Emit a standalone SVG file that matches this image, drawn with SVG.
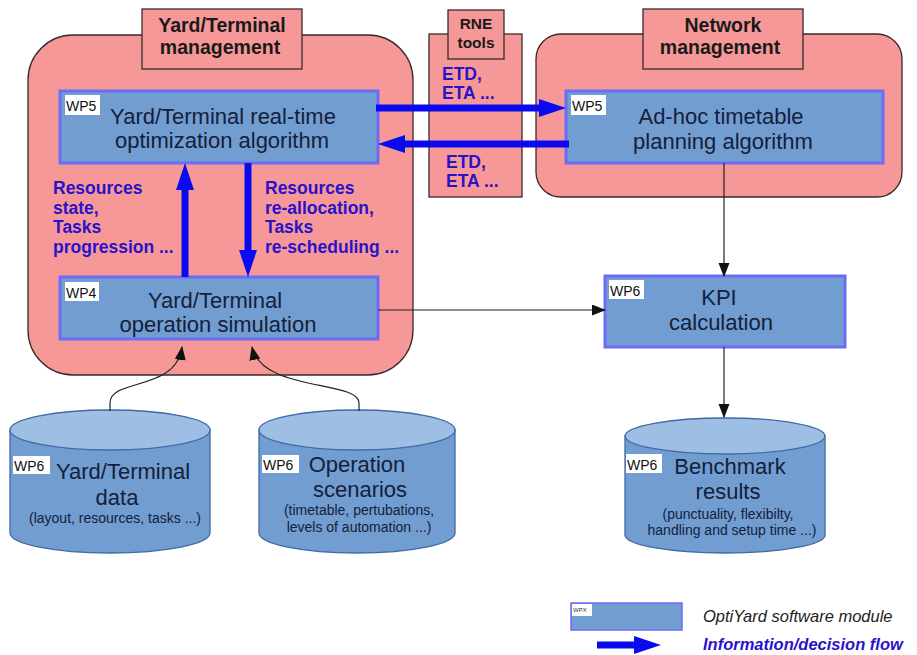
<svg xmlns="http://www.w3.org/2000/svg" width="917" height="655" viewBox="0 0 917 655">
<style>
  text{font-family:"Liberation Sans",Arial,sans-serif;}
  .cont{fill:#f79898;stroke:#3a2a2a;stroke-width:1.3;}
  .title{font-weight:bold;font-size:19.5px;fill:#1a1a1a;text-anchor:middle;}
  .box{fill:#719dd0;stroke:#6c6cf6;stroke-width:3;}
  .bt{font-size:22px;fill:#15203a;text-anchor:middle;}
  .lbl{fill:#ffffff;}
  .lt{font-size:14px;fill:#111;}
  .flow{font-weight:bold;font-size:17.5px;fill:#2a12c8;}
  .cyl{fill:#719dd0;stroke:#3f6aa6;stroke-width:1.3;}
  .cyltop{fill:#9ebfe3;stroke:#3f6aa6;stroke-width:1.3;}
  .ct{font-size:22px;fill:#15203a;text-anchor:middle;}
  .cs{font-size:14px;fill:#15203a;text-anchor:middle;}
  .big{stroke:#0a0af0;stroke-width:7;fill:none;}
  .thin{stroke:#222;stroke-width:1.2;fill:none;}
</style>
<defs>
  <marker id="bh" markerUnits="userSpaceOnUse" markerWidth="28" markerHeight="20" refX="0" refY="9" orient="auto">
    <path d="M0,0 L27,9 L0,18 Z" fill="#0a0af0"/>
  </marker>
  <marker id="th" markerUnits="userSpaceOnUse" markerWidth="14" markerHeight="12" refX="13" refY="5.5" orient="auto">
    <path d="M0,0 L14,5.5 L0,11 Z" fill="#111"/>
  </marker>
</defs>
<rect width="917" height="655" fill="#ffffff"/>

<g id="yard-management">
  <rect class="cont" x="28" y="35" width="385" height="340" rx="45" ry="45"/>
  <rect class="cont" x="142" y="9" width="160" height="60"/>
  <text class="title" x="222" y="32">Yard/Terminal</text>
  <text class="title" x="220" y="54">management</text>
</g>

<g id="rne-tools">
  <rect class="cont" x="429" y="34" width="93" height="163"/>
  <rect class="cont" x="448" y="10" width="56" height="49"/>
  <text class="title" x="476" y="29" style="font-size:15.5px">RNE</text>
  <text class="title" x="476" y="48" style="font-size:15.5px">tools</text>
</g>

<g id="network-management">
  <rect class="cont" x="536" y="34" width="366" height="163" rx="25" ry="25"/>
  <rect class="cont" x="643" y="9" width="160" height="60"/>
  <text class="title" x="723" y="32">Network</text>
  <text class="title" x="720" y="54">management</text>
</g>

<g id="wp5-yard-optimization">
  <rect class="box" x="60" y="91" width="318" height="72"/>
  <rect class="lbl" x="65" y="95" width="35" height="20"/>
  <text class="lt" x="66" y="111">WP5</text>
  <text class="bt" x="223" y="124">Yard/Terminal real-time</text>
  <text class="bt" x="222" y="148">optimization algorithm</text>
</g>

<g id="wp4-yard-simulation">
  <rect class="box" x="60" y="277" width="318" height="62"/>
  <rect class="lbl" x="65" y="282" width="34" height="19"/>
  <text class="lt" x="66" y="298">WP4</text>
  <text class="bt" x="215" y="308">Yard/Terminal</text>
  <text class="bt" x="218" y="332">operation simulation</text>
</g>

<g id="wp5-adhoc-timetable">
  <rect class="box" x="566" y="91" width="317" height="72"/>
  <rect class="lbl" x="571" y="95" width="35" height="20"/>
  <text class="lt" x="572" y="111">WP5</text>
  <text class="bt" x="721" y="124">Ad-hoc timetable</text>
  <text class="bt" x="723" y="149">planning algorithm</text>
</g>

<g id="wp6-kpi">
  <rect class="box" x="605" y="276" width="240" height="71"/>
  <rect class="lbl" x="609" y="280" width="35" height="19"/>
  <text class="lt" x="610" y="296">WP6</text>
  <text class="bt" x="719" y="305">KPI</text>
  <text class="bt" x="721" y="330">calculation</text>
</g>

<g id="wp6-yard-data">
  <path class="cyl" d="M10,430 L10,533 A100,20 0 0 0 210,533 L210,430 Z"/>
  <ellipse class="cyltop" cx="110" cy="430" rx="100" ry="20"/>
  <rect class="lbl" x="13" y="456" width="37" height="18"/>
  <text class="lt" x="14" y="471">WP6</text>
  <text class="ct" x="123" y="479">Yard/Terminal</text>
  <text class="ct" x="117" y="505">data</text>
  <text class="cs" x="115" y="523">(layout, resources, tasks ...)</text>
</g>

<g id="wp6-operation-scenarios">
  <path class="cyl" d="M259,430 L259,533 A98,20 0 0 0 455,533 L455,430 Z"/>
  <ellipse class="cyltop" cx="357" cy="430" rx="98" ry="20"/>
  <rect class="lbl" x="262" y="455" width="37" height="18"/>
  <text class="lt" x="263" y="470">WP6</text>
  <text class="ct" x="357" y="472">Operation</text>
  <text class="ct" x="360" y="497">scenarios</text>
  <text class="cs" x="359" y="515">(timetable, pertubations,</text>
  <text class="cs" x="359" y="532">levels of automation ...)</text>
</g>

<g id="wp6-benchmark-results">
  <path class="cyl" d="M625,436 L625,535 A100,18 0 0 0 825,535 L825,436 Z"/>
  <ellipse class="cyltop" cx="725" cy="436" rx="100" ry="18"/>
  <rect class="lbl" x="626" y="454" width="36" height="19"/>
  <text class="lt" x="627" y="470">WP6</text>
  <text class="ct" x="730" y="474">Benchmark</text>
  <text class="ct" x="728" y="499">results</text>
  <text class="cs" x="728" y="519">(punctuality, flexibilty,</text>
  <text class="cs" x="732" y="535">handling and setup time ...)</text>
</g>

<g id="flow-labels">
  <text class="flow" x="53" y="194">Resources</text>
  <text class="flow" x="53" y="214">state,</text>
  <text class="flow" x="53" y="233">Tasks</text>
  <text class="flow" x="53" y="253">progression ...</text>
  <text class="flow" x="265" y="194">Resources</text>
  <text class="flow" x="265" y="214">re-allocation,</text>
  <text class="flow" x="265" y="233">Tasks</text>
  <text class="flow" x="265" y="253">re-scheduling ...</text>
  <text class="flow" x="442" y="80">ETD,</text>
  <text class="flow" x="442" y="99">ETA ...</text>
  <text class="flow" x="446" y="168">ETD,</text>
  <text class="flow" x="446" y="187">ETA ...</text>
</g>

<g id="connectors">
  <line class="big" x1="185" y1="277" x2="185" y2="190" marker-end="url(#bh)"/>
  <line class="big" x1="248" y1="163" x2="248" y2="250" marker-end="url(#bh)"/>
  <line class="big" x1="376" y1="108" x2="539" y2="108" marker-end="url(#bh)"/>
  <line class="big" x1="569" y1="144" x2="405" y2="144" marker-end="url(#bh)"/>
  <line class="thin" x1="724" y1="163" x2="724" y2="276" marker-end="url(#th)"/>
  <line class="thin" x1="378" y1="310" x2="605" y2="310" marker-end="url(#th)"/>
  <line class="thin" x1="724" y1="347" x2="724" y2="417" marker-end="url(#th)"/>
  <path class="thin" d="M110,411 L110,403 C110,378 176,392 182,347" marker-end="url(#th)"/>
  <path class="thin" d="M359,411 L359,403 C359,380 262,392 252,347" marker-end="url(#th)"/>
</g>

<g id="legend">
  <rect class="box" x="571" y="603" width="111" height="27" style="stroke-width:1.5"/>
  <rect class="lbl" x="572" y="604" width="20" height="12"/>
  <text x="573" y="612" style="font-size:6px;fill:#333">WPX</text>
  <text x="703" y="622" style="font-size:16.5px;font-style:italic;fill:#222">OptiYard software module</text>
  <line class="big" x1="597" y1="645" x2="634" y2="645" marker-end="url(#bh)"/>
  <text x="703" y="650" style="font-size:16.5px;font-style:italic;font-weight:bold;fill:#2a12c8">Information/decision flow</text>
</g>
</svg>
